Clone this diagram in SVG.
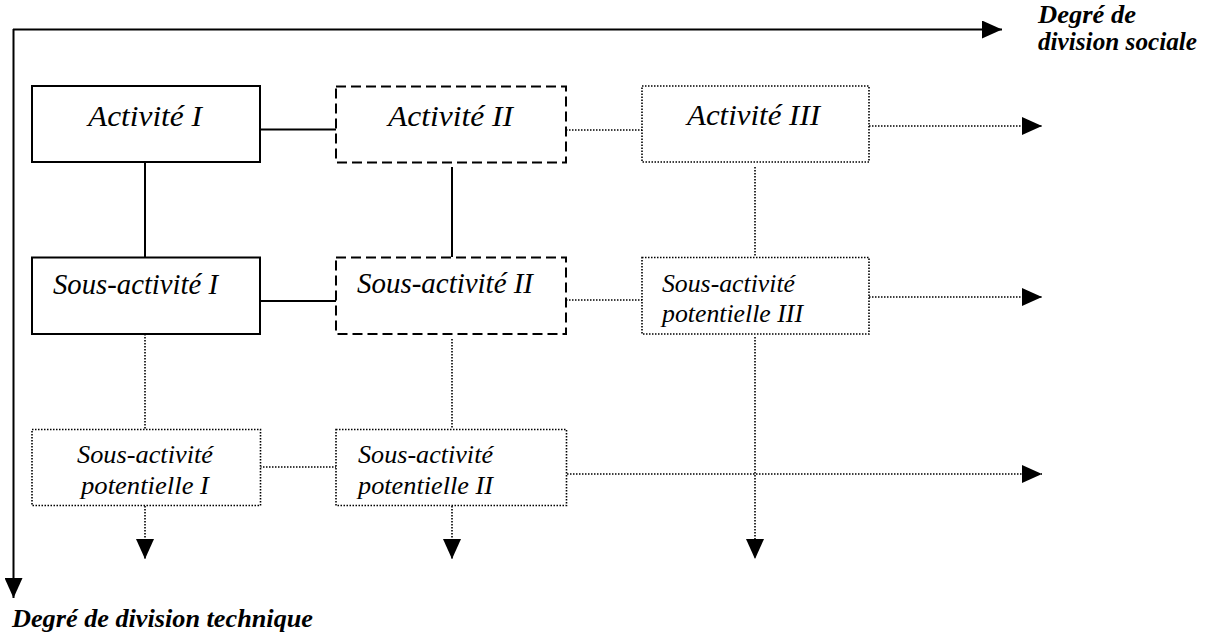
<svg xmlns="http://www.w3.org/2000/svg" width="1224" height="641" viewBox="0 0 1224 641">
<style>
.solid{fill:#fff;stroke:#000;stroke-width:2}
.dash{fill:#fff;stroke:#000;stroke-width:2;stroke-dasharray:10 5}
.dot{fill:#fff;stroke:#000;stroke-width:1.6;stroke-dasharray:1.5 1.5}
.ls{fill:none;stroke:#000;stroke-width:2}
.ld{fill:none;stroke:#000;stroke-width:1.6;stroke-dasharray:1.5 1.5}
.t{font-family:"Liberation Serif","DejaVu Serif",serif;font-style:italic;fill:#000}
.big{font-size:30px}
.sm{font-size:26px}
.ax{font-family:"Liberation Serif","DejaVu Serif",serif;font-style:italic;font-weight:bold;font-size:25px;fill:#000}
</style>
<defs>
<marker id="ah" viewBox="0 0 20 18" refX="20" refY="9" markerWidth="20" markerHeight="18" markerUnits="userSpaceOnUse" orient="auto">
<path d="M0,0 L20,9 L0,18 z" fill="#000"/>
</marker>
</defs>
<g id="axes">
<line class="ls" x1="13" y1="29.5" x2="1002" y2="29.5" marker-end="url(#ah)"/>
<line class="ls" x1="13.5" y1="29" x2="13.5" y2="598" marker-end="url(#ah)"/>
<text class="ax" x="1038" y="23" textLength="98" lengthAdjust="spacingAndGlyphs">Degré de</text>
<text class="ax" x="1038" y="50" textLength="159" lengthAdjust="spacingAndGlyphs">division sociale</text>
<text class="ax" x="12" y="627" textLength="301" lengthAdjust="spacingAndGlyphs">Degré de division technique</text>
</g>
<g id="connectors">
<line class="ls" x1="260" y1="129.5" x2="336" y2="129.5"/>
<line class="ls" x1="145" y1="162" x2="145" y2="257"/>
<line class="ls" x1="452" y1="167" x2="452" y2="257"/>
<line class="ls" x1="260" y1="301" x2="336" y2="301"/>
<line class="ld" x1="566" y1="130" x2="642" y2="130"/>
<line class="ld" x1="869" y1="126" x2="1042" y2="126" marker-end="url(#ah)"/>
<line class="ld" x1="755" y1="167" x2="755" y2="257"/>
<line class="ld" x1="566" y1="300" x2="642" y2="300"/>
<line class="ld" x1="869" y1="297" x2="1042" y2="297" marker-end="url(#ah)"/>
<line class="ld" x1="145" y1="334" x2="145" y2="429"/>
<line class="ld" x1="452" y1="339" x2="452" y2="429"/>
<line class="ld" x1="260" y1="467" x2="336" y2="467"/>
<line class="ld" x1="567" y1="474" x2="1042" y2="474" marker-end="url(#ah)"/>
<line class="ld" x1="145" y1="506" x2="145" y2="559" marker-end="url(#ah)"/>
<line class="ld" x1="452" y1="506" x2="452" y2="559" marker-end="url(#ah)"/>
<line class="ld" x1="755" y1="337" x2="755" y2="559" marker-end="url(#ah)"/>
</g>
<g id="activite1">
<rect class="solid" x="32" y="86" width="228" height="76"/>
<text class="t big" x="88" y="126" textLength="114" lengthAdjust="spacingAndGlyphs">Activité I</text>
</g>
<g id="activite2">
<rect class="dash" x="336" y="86.5" width="230" height="76"/>
<text class="t big" x="388" y="126" textLength="125" lengthAdjust="spacingAndGlyphs">Activité II</text>
</g>
<g id="activite3">
<rect class="dot" x="642" y="86" width="227" height="76"/>
<text class="t big" x="687" y="125" textLength="133" lengthAdjust="spacingAndGlyphs">Activité III</text>
</g>
<g id="sousactivite1">
<rect class="solid" x="32" y="257.5" width="228" height="76.5"/>
<text class="t big" x="53" y="294" textLength="165" lengthAdjust="spacingAndGlyphs">Sous-activité I</text>
</g>
<g id="sousactivite2">
<rect class="dash" x="336" y="257.5" width="230" height="76.5"/>
<text class="t big" x="357" y="293" textLength="176" lengthAdjust="spacingAndGlyphs">Sous-activité II</text>
</g>
<g id="potentielle3">
<rect class="dot" x="642" y="257.5" width="227" height="76.5"/>
<text class="t sm" x="662" y="291.5" textLength="133" lengthAdjust="spacingAndGlyphs">Sous-activité</text>
<text class="t sm" x="662" y="321.5" textLength="141" lengthAdjust="spacingAndGlyphs">potentielle III</text>
</g>
<g id="potentielle1">
<rect class="dot" x="32" y="429.5" width="228.5" height="76"/>
<text class="t sm" x="77" y="463" textLength="136" lengthAdjust="spacingAndGlyphs">Sous-activité</text>
<text class="t sm" x="81" y="494" textLength="128" lengthAdjust="spacingAndGlyphs">potentielle I</text>
</g>
<g id="potentielle2">
<rect class="dot" x="336" y="429.5" width="230.5" height="76"/>
<text class="t sm" x="358" y="463" textLength="135" lengthAdjust="spacingAndGlyphs">Sous-activité</text>
<text class="t sm" x="358" y="494" textLength="135" lengthAdjust="spacingAndGlyphs">potentielle II</text>
</g>
</svg>
